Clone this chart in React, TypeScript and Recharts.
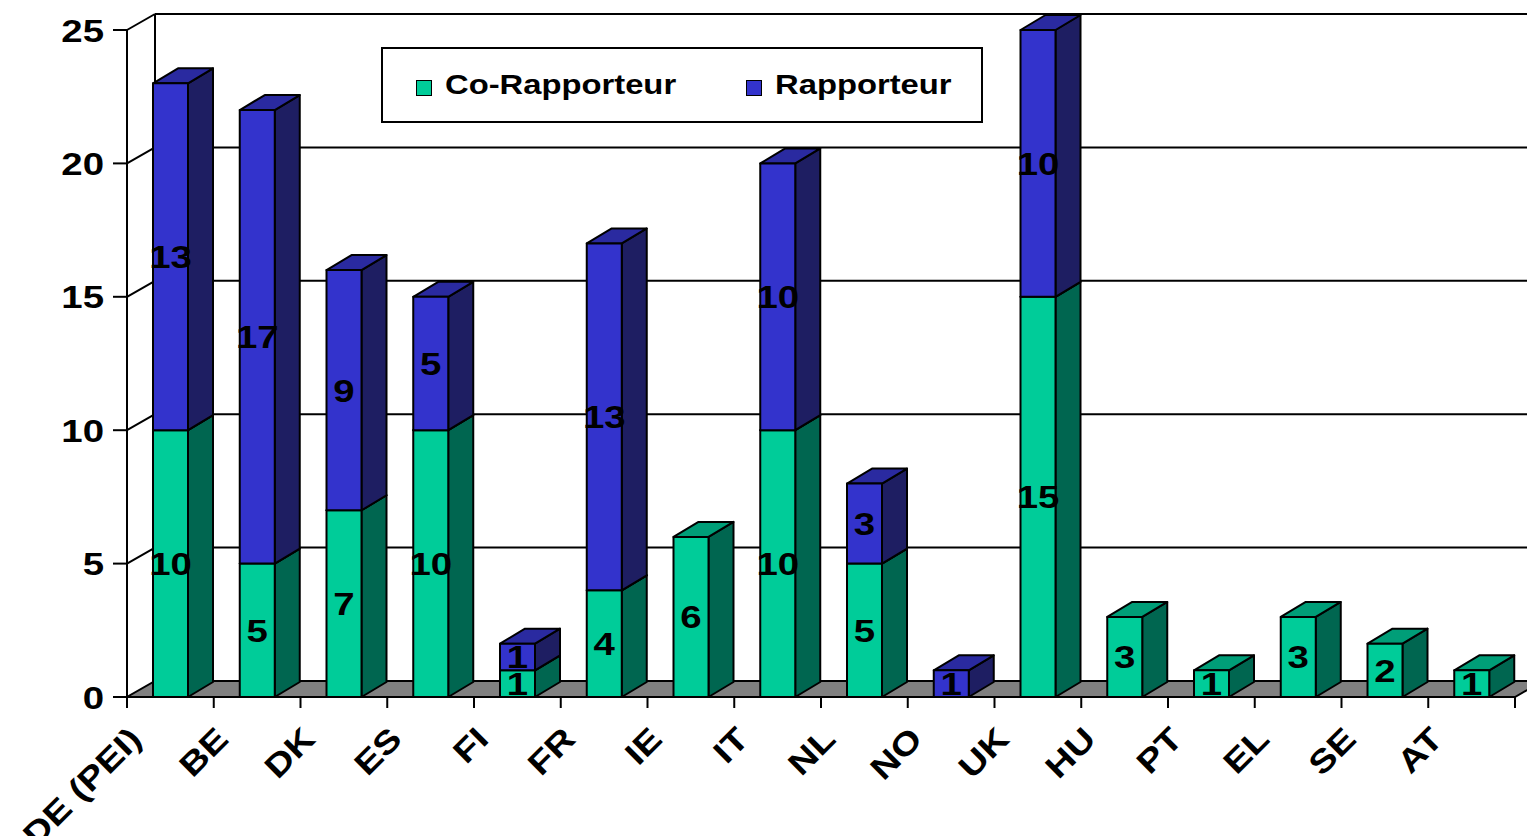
import React from 'react';
import { BarChart, Bar, XAxis, YAxis, CartesianGrid, Legend, LabelList } from 'recharts';

const countries = ['DE (PEI)', 'BE', 'DK', 'ES', 'FI', 'FR', 'IE', 'IT', 'NL', 'NO', 'UK', 'HU', 'PT', 'EL', 'SE', 'AT'];
const coRapporteur = [10, 5, 7, 10, 1, 4, 6, 10, 5, 0, 15, 3, 1, 3, 2, 1];
const rapporteur = [13, 17, 9, 5, 1, 13, 0, 10, 3, 1, 10, 0, 0, 0, 0, 0];
const yTicks = [0, 5, 10, 15, 20, 25];

const data = countries.map((name, i) => ({ name, co: coRapporteur[i], rap: rapporteur[i] }));

const FONT = '"Liberation Sans", Arial, sans-serif';
const STRETCH = 1.2;
// depth of the back wall and of the bars
const WALL_DX = 28;
const WALL_DY = 16;
const BAR_DX = 25;
const BAR_DY = 15;

const TEAL = { front: '#00CC99', top: '#009E78', side: '#006650' };
const BLUE = { front: '#3333CC', top: '#2A2AA0', side: '#1E1E62' };

const pts = (p: number[][]) => p.map((q) => q.join(',')).join(' ');

const box3d = (c: { front: string; top: string; side: string }) => (props: any) => {
  const { x, y, width: w, height: h } = props;
  if (!h || h < 0.5) return <g />;
  return (
    <g stroke="#000" strokeWidth={2} strokeLinejoin="round">
      <polygon
        points={pts([[x + w, y], [x + w + BAR_DX, y - BAR_DY], [x + w + BAR_DX, y + h - BAR_DY], [x + w, y + h]])}
        fill={c.side}
      />
      <polygon
        points={pts([[x, y], [x + BAR_DX, y - BAR_DY], [x + w + BAR_DX, y - BAR_DY], [x + w, y]])}
        fill={c.top}
      />
      <rect x={x} y={y} width={w} height={h} fill={c.front} />
    </g>
  );
};

const valueLabel = (props: any) => {
  const vb = props.viewBox || {};
  const x = props.x ?? vb.x;
  const y = props.y ?? vb.y;
  const width = props.width ?? vb.width;
  const height = props.height ?? vb.height;
  if (!props.value) return null;
  const cx = x + width / 2;
  const cy = y + height / 2;
  return (
    <text
      transform={`translate(${cx},${cy + 11.5}) scale(${STRETCH},1)`}
      textAnchor="middle"
      fontFamily={FONT}
      fontWeight={700}
      fontSize={32}
      fill="#000"
    >
      {props.value}
    </text>
  );
};

const gridLine = (props: any) => {
  const { x1, x2, y1, index } = props;
  const bottom = props.y != null && props.height != null ? props.y + props.height : null;
  const isFloor = bottom != null ? Math.abs(y1 - bottom) < 1 : index === 0;
  if (isFloor) {
    return (
      <g key={`grid-${index}`}>
        <polygon
          points={pts([[x1, y1], [x2, y1], [x2 + WALL_DX, y1 - WALL_DY], [x1 + WALL_DX, y1 - WALL_DY]])}
          fill="#808080"
          stroke="#000"
          strokeWidth={2}
        />
        {props.y != null && (
          <line x1={x1 + WALL_DX} y1={props.y - WALL_DY} x2={x1 + WALL_DX} y2={y1 - WALL_DY} stroke="#000" strokeWidth={2} />
        )}
      </g>
    );
  }
  return (
    <g key={`grid-${index}`} stroke="#000" strokeWidth={2}>
      <line x1={x1} y1={y1} x2={x1 + WALL_DX} y2={y1 - WALL_DY} />
      <line x1={x1 + WALL_DX} y1={y1 - WALL_DY} x2={x2 + WALL_DX} y2={y1 - WALL_DY} />
    </g>
  );
};

const XTick = (props: any) => {
  const { x, y, payload, index } = props;
  const half = payload?.offset || 43.4;
  return (
    <g>
      <line x1={x + half} y1={y} x2={x + half} y2={y + 11} stroke="#000" strokeWidth={2} />
      {index === 0 && <line x1={x - half} y1={y} x2={x - half} y2={y + 11} stroke="#000" strokeWidth={2} />}
      <text
        transform={`translate(${x - 27},${y + 44}) rotate(-45) scale(${STRETCH},1)`}
        textAnchor="end"
        fontFamily={FONT}
        fontWeight={700}
        fontSize={32}
        fill="#000"
      >
        {payload.value}
      </text>
    </g>
  );
};

const YTick = (props: any) => {
  const { x, y, payload } = props;
  return (
    <text
      transform={`translate(${x},${y + 11.5}) scale(${STRETCH},1)`}
      textAnchor="end"
      fontFamily={FONT}
      fontWeight={700}
      fontSize={32}
      fill="#000"
    >
      {payload.value}
    </text>
  );
};

const legendItems = [
  { label: 'Co-Rapporteur', color: TEAL.front, left: 35 },
  { label: 'Rapporteur', color: BLUE.front, left: 365 },
];

const renderLegend = () => (
  <div
    style={{
      width: 602,
      height: 76,
      boxSizing: 'border-box',
      border: '2px solid #000',
      background: '#fff',
      position: 'relative',
      fontFamily: FONT,
      fontWeight: 700,
      fontSize: 28,
      color: '#000',
    }}
  >
    {legendItems.map((it) => (
      <div
        key={it.label}
        style={{ position: 'absolute', left: it.left - 2, top: 0, height: 72, display: 'flex', alignItems: 'center' }}
      >
        <span
          style={{
            display: 'inline-block',
            width: 16,
            height: 16,
            boxSizing: 'border-box',
            background: it.color,
            border: '1.5px solid #000',
            marginTop: 5,
          }}
        />
        <span style={{ display: 'inline-block', marginLeft: 13, transform: `scaleX(1.17)`, transformOrigin: 'left center', whiteSpace: 'nowrap' }}>
          {it.label}
        </span>
      </div>
    ))}
  </div>
);

export default function App() {
  return (
    <div style={{ position: 'absolute', left: 0, top: 0, width: 1527, height: 836, background: '#fff' }}>
      <BarChart width={1527} height={836} data={data} margin={{ top: 30, right: 12, left: 67, bottom: 0 }} barSize={35}>
        <CartesianGrid horizontal={gridLine} vertical={false} />
        <XAxis
          dataKey="name"
          height={139}
          interval={0}
          tickLine={false}
          tickSize={0}
          tickMargin={0}
          axisLine={{ stroke: '#000', strokeWidth: 2 }}
          tick={<XTick />}
        />
        <YAxis
          width={60}
          domain={[0, 25]}
          ticks={yTicks}
          interval={0}
          tickSize={14}
          tickMargin={9}
          axisLine={{ stroke: '#000', strokeWidth: 2 }}
          tickLine={{ stroke: '#000', strokeWidth: 2 }}
          tick={<YTick />}
        />
        <Legend
          layout="horizontal"
          verticalAlign="middle"
          align="center"
          wrapperStyle={{ left: 381, top: 47, width: 602, height: 76 }}
          content={renderLegend}
        />
        <Bar dataKey="co" name="Co-Rapporteur" stackId="a" fill={TEAL.front} shape={box3d(TEAL)} isAnimationActive={false}>
          <LabelList dataKey="co" position="center" content={valueLabel} />
        </Bar>
        <Bar dataKey="rap" name="Rapporteur" stackId="a" fill={BLUE.front} shape={box3d(BLUE)} isAnimationActive={false}>
          <LabelList dataKey="rap" position="center" content={valueLabel} />
        </Bar>
      </BarChart>
    </div>
  );
}
